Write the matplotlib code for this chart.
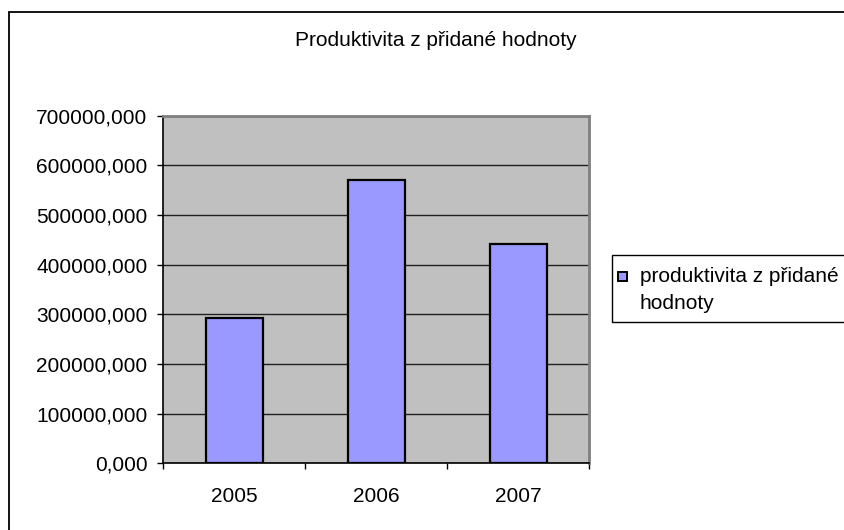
#! /usr/bin/env python3

'''
Bar chart of "Produktivita z přidané hodnoty" for 2005-2007,
redrawn in the old Excel look (grey plot area, blue-violet bars).
'''

import matplotlib.pyplot as plt
from matplotlib.patches import Rectangle
from matplotlib.ticker import FuncFormatter, FixedLocator

# data
years = ['2005', '2006', '2007']
values = [292600, 570500, 441600]
yticks = [0, 100000, 200000, 300000, 400000, 500000, 600000, 700000]

title = 'Produktivita z přidané hodnoty'
legend_label = ['produktivita z přidané', 'hodnoty']

plt.rcParams['font.family'] = ['Liberation Sans', 'DejaVu Sans']
fs = 15

W, H = 845, 530
fig = plt.figure(figsize=(W / 100, H / 100), dpi=100)

# plot area in pixels: left 163, right 589, top 116, bottom 463
ax = fig.add_axes([163.3 / W, 1 - 463.3 / H, (589.3 - 163.3) / W, (463.3 - 115.7) / H])
ax.set_facecolor('#C0C0C0')

x = range(len(years))
ax.bar(x, values, width=0.4, color='#9999FF', edgecolor='black', linewidth=1.6, zorder=3)

ax.set_xlim(-0.5, len(years) - 0.5)
ax.set_ylim(yticks[0], yticks[-1])
ax.set_yticks(yticks)
ax.yaxis.set_major_formatter(FuncFormatter(lambda v, p: f'{int(v)},000'))
ax.grid(axis='y', color='#202020', linewidth=1.0, zorder=1)

# category boundaries get the tick marks, labels sit in between
ax.xaxis.set_major_locator(FixedLocator([-0.5, 0.5, 1.5, 2.5]))
ax.xaxis.set_minor_locator(FixedLocator(list(x)))
ax.set_xticklabels([])
ax.set_xticklabels(years, minor=True)
ax.tick_params(axis='x', which='major', length=4.5, width=1, color='black')
ax.tick_params(axis='x', which='minor', length=0, pad=17, labelsize=fs)
ax.tick_params(axis='y', length=4.5, width=1, color='black', pad=7, labelsize=fs)

for s in ['left', 'bottom']:
    ax.spines[s].set_color('black')
    ax.spines[s].set_linewidth(1.2)
for s in ['top', 'right']:
    ax.spines[s].set_color('#808080')
    ax.spines[s].set_linewidth(2)

fig.text(435.5 / W, 1 - 41 / H, title, ha='center', va='center', fontsize=fs)

# chart frame (cut off at right and bottom)
fig.patches.append(Rectangle((9 / W, -0.2), 2, 1.2 - 11.7 / H,
                             transform=fig.transFigure, fill=False,
                             edgecolor='black', linewidth=1.3))

# legend box, also cut off at the right edge
fig.patches.append(Rectangle((612 / W, 1 - 321.5 / H), 1, 66.5 / H,
                             transform=fig.transFigure, fill=False,
                             edgecolor='black', linewidth=1.0))
fig.patches.append(Rectangle((618 / W, 1 - 280.5 / H), 9 / W, 9 / H,
                             transform=fig.transFigure, facecolor='#9999FF',
                             edgecolor='black', linewidth=1.4))
fig.text(640 / W, 1 - 276 / H, legend_label[0], ha='left', va='center', fontsize=fs)
fig.text(640 / W, 1 - 303.5 / H, legend_label[1], ha='left', va='center', fontsize=fs)

fig.savefig('out.png', dpi=100)
